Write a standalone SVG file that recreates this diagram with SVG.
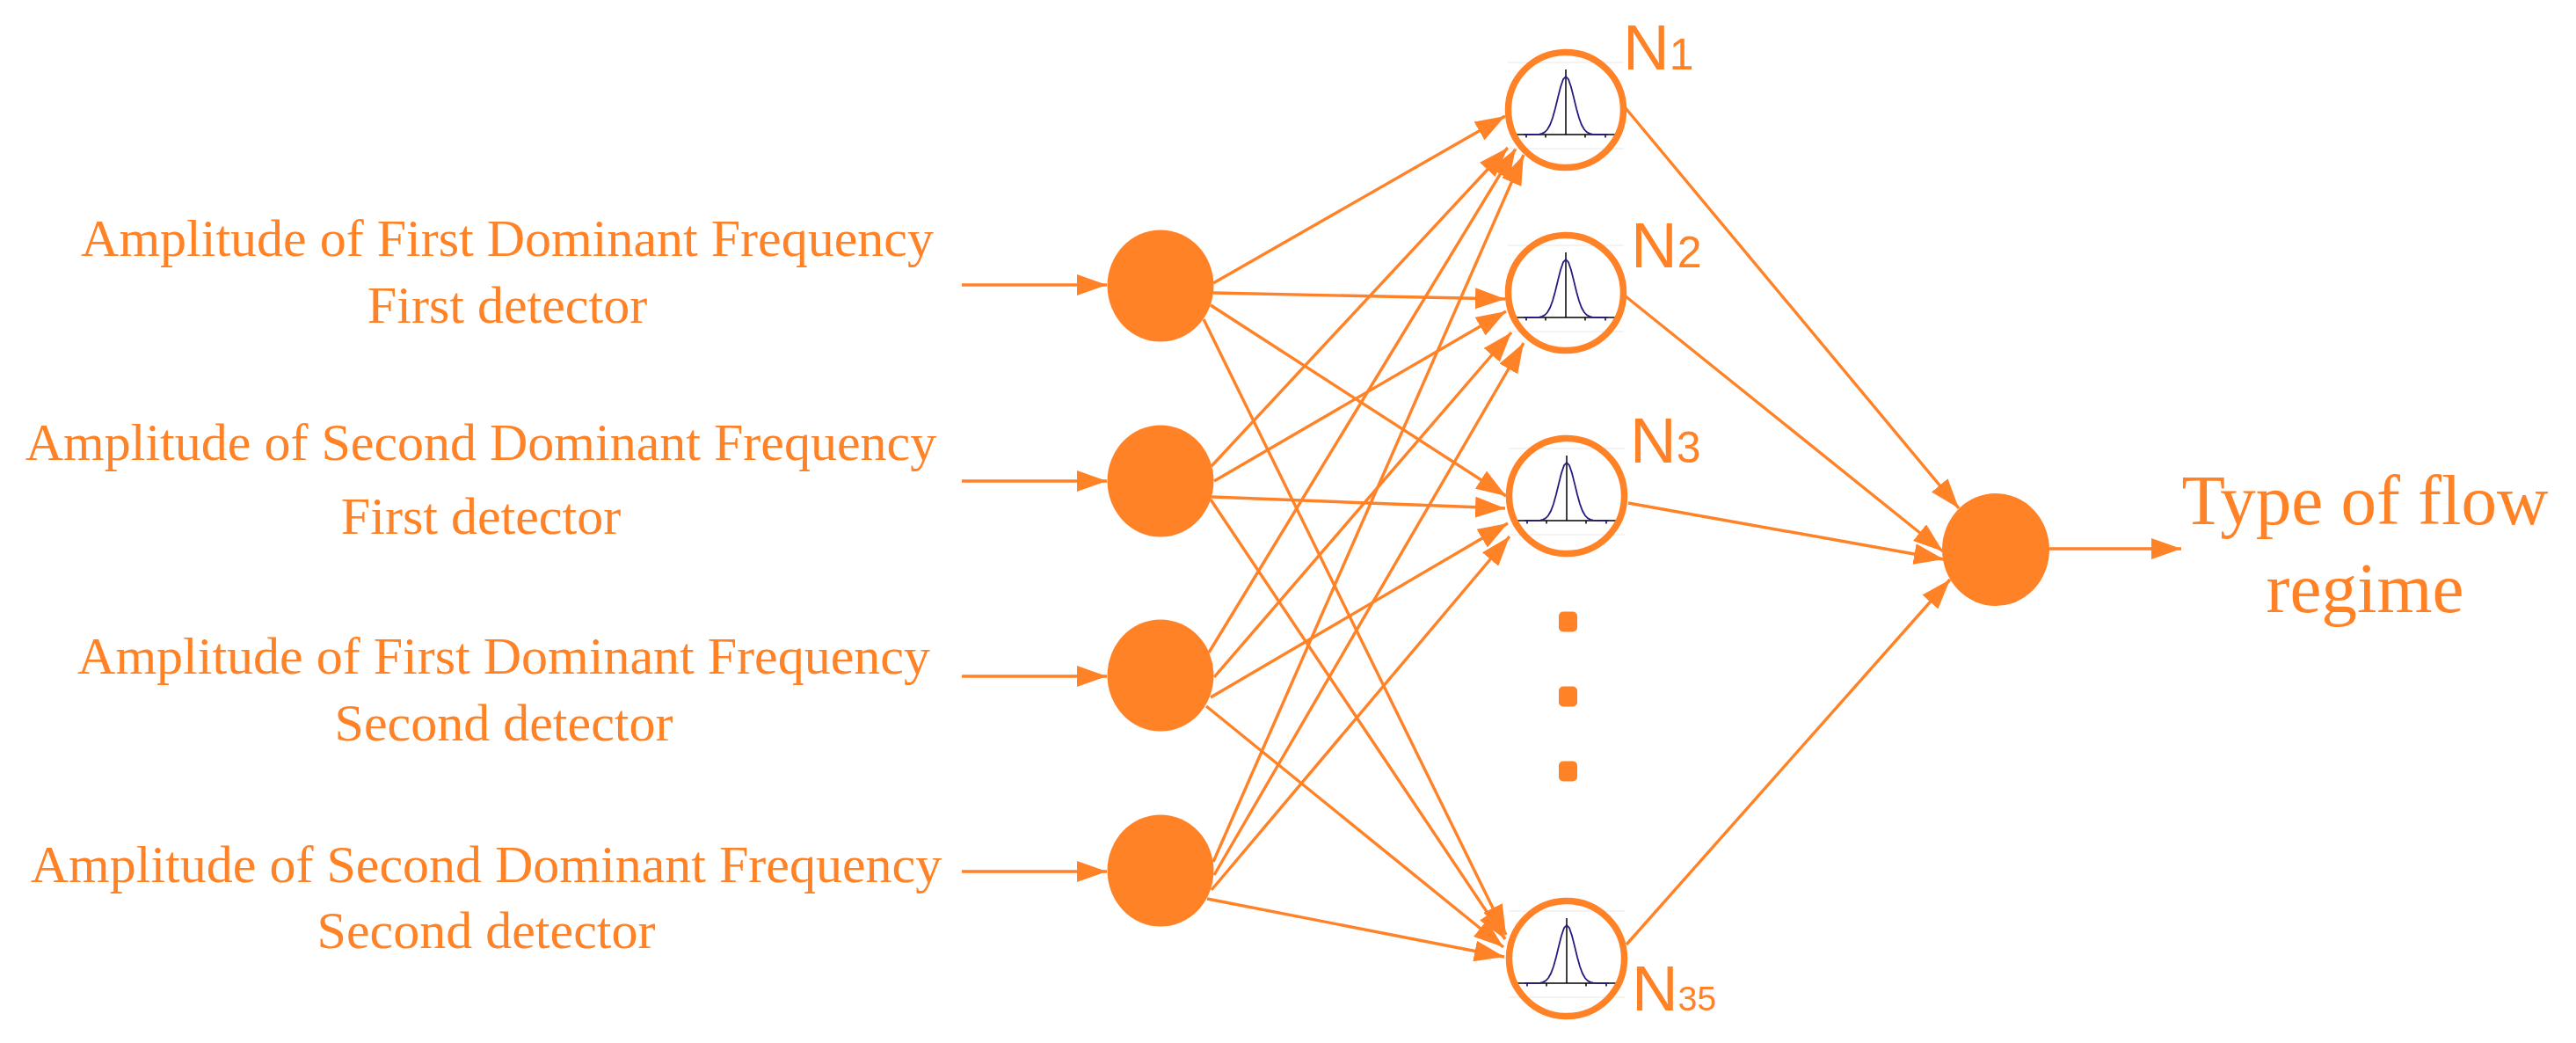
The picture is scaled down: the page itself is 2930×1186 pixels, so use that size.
<svg xmlns="http://www.w3.org/2000/svg" xmlns:xlink="http://www.w3.org/1999/xlink" width="2930" height="1186" viewBox="0 0 2930 1186">
<style>
.lbl{font-family:"Liberation Serif","Times New Roman",serif;font-size:60px;fill:#FF8227;text-anchor:middle}
.out{font-family:"Liberation Serif","Times New Roman",serif;font-size:81px;fill:#FF8227;text-anchor:middle}
.nl{font-family:"Liberation Sans",Arial,sans-serif;font-size:73px;fill:#FF8227}
.sub{font-size:50px}
.sub2{font-size:39px}
.fill{fill:#FF8227;stroke:none}
.hid{fill:none;stroke:#FF8227;stroke-width:7.5}
.edge{stroke:#FF8227;stroke-width:3.4;fill:none;marker-end:url(#ah)}
.ax{stroke:#000;stroke-width:1.5;fill:none}
.gc{stroke:#231C7E;stroke-width:1.8;fill:none}
.fr{stroke:#E8E8E8;stroke-width:1;fill:none}
</style>
<defs>
<marker id="ah" markerUnits="userSpaceOnUse" markerWidth="34" markerHeight="24" refX="34" refY="12" orient="auto">
<path d="M0,0 L34,12 L0,24 z" fill="#FF8227"/>
</marker>
<g id="gauss">
<line class="fr" x1="-66" y1="-54" x2="66" y2="-54"/>
<line class="fr" x1="-66" y1="44" x2="66" y2="44"/>
<line class="ax" x1="-56" y1="28" x2="57" y2="28"/>
<line class="ax" x1="0" y1="-46" x2="0" y2="28"/>
<path class="ax" d="M-45,28 v3.5 M-23,28 v3.5 M22,28 v3.5 M45,28 v3.5"/>
<polyline class="gc" points="-48,28 -36,27.9 -30,27.55 -27,26.84 -24,25.29 -21,22.26 -18,17.04 -15,9.02 -12,-1.72 -9,-14.14 -6,-26.05 -3,-34.8 0,-38 3,-34.8 6,-26.05 9,-14.14 12,-1.72 15,9.02 18,17.04 21,22.26 24,25.29 27,26.84 30,27.55 36,27.9 48,28"/>
</g>
</defs>
<rect width="2930" height="1186" fill="#fff"/>

<g id="connectors">
<line class="edge" x1="1094" y1="324" x2="1259" y2="324"/>
<line class="edge" x1="1094" y1="547" x2="1259" y2="547"/>
<line class="edge" x1="1094" y1="769" x2="1259" y2="769"/>
<line class="edge" x1="1094" y1="991" x2="1259" y2="991"/>

<line class="edge" x1="1380" y1="322" x2="1712" y2="132"/>
<line class="edge" x1="1380" y1="333" x2="1712" y2="340"/>
<line class="edge" x1="1377" y1="347" x2="1713" y2="564"/>
<line class="edge" x1="1369" y1="363" x2="1713" y2="1063"/>

<line class="edge" x1="1378" y1="530" x2="1715" y2="168"/>
<line class="edge" x1="1381" y1="547" x2="1713" y2="354"/>
<line class="edge" x1="1378" y1="565" x2="1712" y2="578"/>
<line class="edge" x1="1377" y1="568" x2="1712" y2="1068"/>

<line class="edge" x1="1375" y1="742" x2="1724" y2="169"/>
<line class="edge" x1="1381" y1="770" x2="1719" y2="378"/>
<line class="edge" x1="1377" y1="793" x2="1715" y2="595"/>
<line class="edge" x1="1372" y1="803" x2="1710" y2="1077"/>

<line class="edge" x1="1380" y1="980" x2="1733" y2="176"/>
<line class="edge" x1="1381" y1="995" x2="1733" y2="390"/>
<line class="edge" x1="1378" y1="1012" x2="1717" y2="610"/>
<line class="edge" x1="1373" y1="1022" x2="1711" y2="1088"/>

<line class="edge" x1="1849" y1="123" x2="2228" y2="578"/>
<line class="edge" x1="1849" y1="337" x2="2210" y2="627"/>
<line class="edge" x1="1852" y1="572" x2="2211" y2="636"/>
<line class="edge" x1="1850" y1="1074" x2="2218" y2="659"/>

<line class="edge" x1="2331" y1="624" x2="2481" y2="624"/>
</g>

<g id="label-in1">
<text class="lbl" x="577" y="291">Amplitude of First Dominant Frequency</text>
<text class="lbl" x="577" y="367">First detector</text>
</g>
<g id="label-in2">
<text class="lbl" x="547" y="523">Amplitude of Second Dominant Frequency</text>
<text class="lbl" x="547" y="607">First detector</text>
</g>
<g id="label-in3">
<text class="lbl" x="573" y="766">Amplitude of First Dominant Frequency</text>
<text class="lbl" x="573" y="842">Second detector</text>
</g>
<g id="label-in4">
<text class="lbl" x="553" y="1003">Amplitude of Second Dominant Frequency</text>
<text class="lbl" x="553" y="1078">Second detector</text>
</g>

<g id="in1"><ellipse class="fill" cx="1320" cy="325" rx="60.5" ry="63.5"/></g>
<g id="in2"><ellipse class="fill" cx="1320" cy="547" rx="60.5" ry="63.5"/></g>
<g id="in3"><ellipse class="fill" cx="1320" cy="768" rx="60.5" ry="63.5"/></g>
<g id="in4"><ellipse class="fill" cx="1320" cy="990" rx="60.5" ry="63.5"/></g>

<g id="N1">
<use xlink:href="#gauss" href="#gauss" x="1781" y="125"/>
<circle class="hid" cx="1781" cy="125" r="65.5"/>
<text class="nl" x="1846" y="79">N<tspan class="sub">1</tspan></text>
</g>
<g id="N2">
<use xlink:href="#gauss" href="#gauss" x="1781" y="333"/>
<circle class="hid" cx="1781" cy="333" r="65.5"/>
<text class="nl" x="1855" y="304">N<tspan class="sub">2</tspan></text>
</g>
<g id="N3">
<use xlink:href="#gauss" href="#gauss" x="1782" y="564"/>
<circle class="hid" cx="1782" cy="564" r="65.5"/>
<text class="nl" x="1854" y="526">N<tspan class="sub">3</tspan></text>
</g>
<g id="ellipsis">
<rect class="fill" x="1773" y="695.5" width="21" height="23" rx="5"/>
<rect class="fill" x="1773" y="780.5" width="21" height="23" rx="5"/>
<rect class="fill" x="1773" y="865.5" width="21" height="23" rx="5"/>
</g>
<g id="N35">
<use xlink:href="#gauss" href="#gauss" x="1782" y="1090"/>
<circle class="hid" cx="1782" cy="1090" r="65.5"/>
<text class="nl" x="1856" y="1149">N<tspan class="sub2">35</tspan></text>
</g>

<g id="out">
<ellipse class="fill" cx="2270" cy="625" rx="61" ry="64"/>
</g>
<g id="label-out">
<text class="out" x="2690" y="596">Type of flow</text>
<text class="out" x="2690" y="696">regime</text>
</g>
</svg>
